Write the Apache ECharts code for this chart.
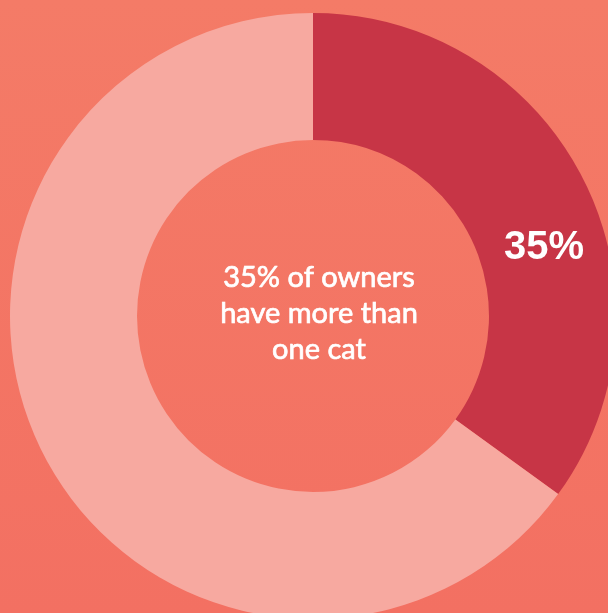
<!DOCTYPE html>
<html>
<head>
<meta charset="utf-8">
<script src="https://cdn.jsdelivr.net/npm/echarts@6/dist/echarts.min.js"></script>
<style>
html,body{margin:0;padding:0;}
#c{width:608px;height:613px;}
</style>
</head>
<body>
<div id="c"></div>
<script>
const categories = ['More than one cat', 'One cat'];
const values = [35, 65];
const centerText = '35% of owners\nhave more than\none cat';

const chart = echarts.init(document.getElementById('c'));
chart.setOption({
  backgroundColor: {
    type: 'linear', x: 0, y: 0, x2: 0, y2: 1,
    colorStops: [{offset: 0, color: '#F47B67'}, {offset: 1, color: '#F37062'}]
  },
  animation: false,
  graphic: [{
    type: 'text',
    x: 319,
    y: 260,
    style: {
      text: centerText,
      fill: '#ffffff',
      stroke: '#ffffff',
      lineWidth: 0.7,
      fontSize: 29,
      fontFamily: 'Lato',
      lineHeight: 36,
      align: 'center',
      verticalAlign: 'top'
    }
  }],
  series: [{
    type: 'pie',
    center: [313, 316],
    radius: [176, 303],
    startAngle: 90,
    clockwise: true,
    silent: true,
    data: categories.map((c, i) => ({
      name: c,
      value: values[i],
      itemStyle: {color: i === 0 ? '#C73546' : '#F7A9A0'},
      label: i === 0 ? {
        show: true,
        position: 'inside',
        formatter: '{d|' + values[i] + '%}',
        offset: [15, 42],
        rich: {d: {color: '#fff', fontSize: 40, fontWeight: 'bold', fontFamily: 'Liberation Sans'}}
      } : {show: false}
    })),
    labelLine: {show: false}
  }]
});
</script>
</body>
</html>
